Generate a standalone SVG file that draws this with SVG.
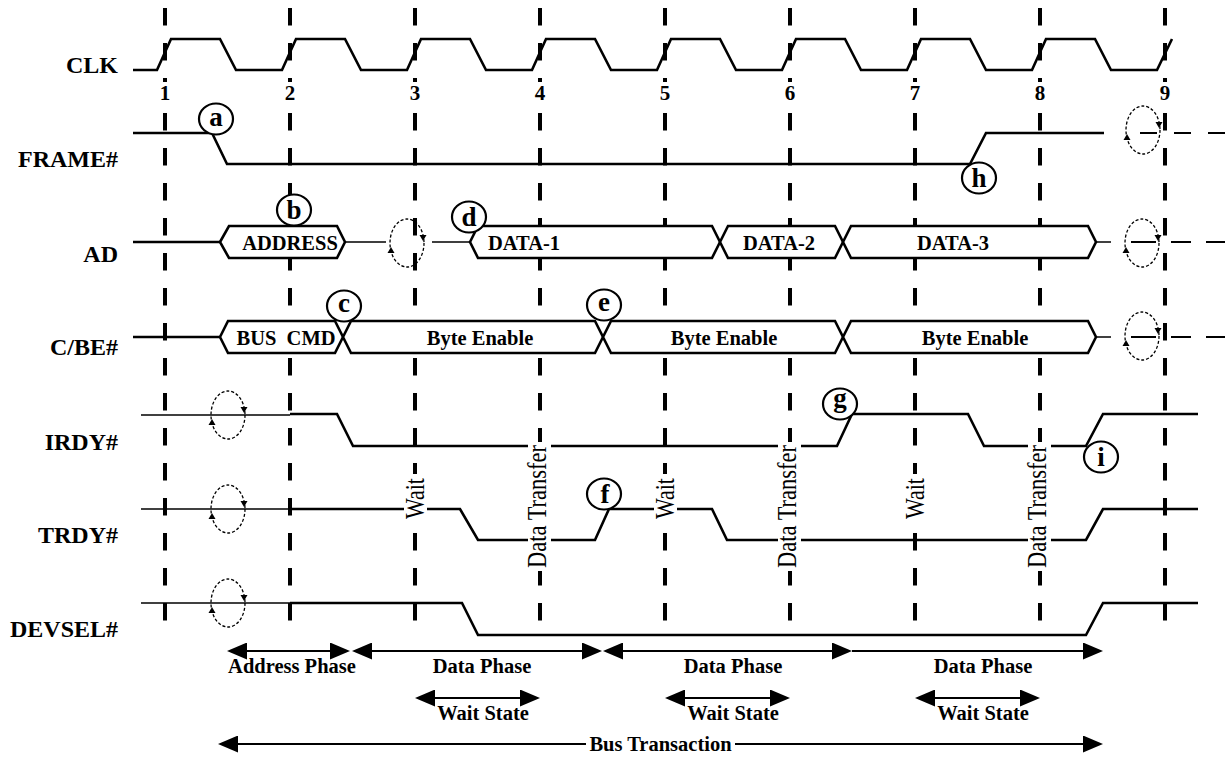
<svg xmlns="http://www.w3.org/2000/svg" xmlns:xlink="http://www.w3.org/1999/xlink" width="1225" height="758" viewBox="0 0 1225 758">
<style>
.grid{stroke:#000;stroke-width:4;stroke-dasharray:17.5 17.5;fill:none}
.sig{stroke:#000;stroke-width:2.6;fill:none;stroke-linejoin:miter}
.thin{stroke:#000;stroke-width:1.5;fill:none}
.tri{stroke:#000;stroke-width:2;fill:none}
.bus{stroke:#000;stroke-width:2.6;fill:#fff;stroke-linejoin:miter}
.loopE{fill:none;stroke:#000;stroke-width:1.3;stroke-dasharray:3 2}
.knock{fill:#fff;stroke:none}
.lbl{font-family:"Liberation Serif","Times New Roman",serif;font-weight:bold;font-size:24px;text-anchor:end;fill:#000}
.dig{font-family:"Liberation Serif","Times New Roman",serif;font-weight:bold;font-size:21px;text-anchor:middle;fill:#000}
.bt{font-family:"Liberation Serif","Times New Roman",serif;font-weight:bold;font-size:20.5px;text-anchor:middle;fill:#000}
.vt{font-family:"Liberation Serif","Times New Roman",serif;font-size:22px;text-anchor:middle;fill:#000}
.cir ellipse{fill:#fff;stroke:#000;stroke-width:2.2}
.cir text{font-family:"Liberation Serif","Times New Roman",serif;font-weight:bold;font-size:27px;text-anchor:middle;fill:#000}
.arr{stroke:#000;stroke-width:2;fill:none}
</style>
<defs>
<marker id="ah" viewBox="0 0 20 17" refX="17" refY="8.5" markerWidth="20" markerHeight="17" markerUnits="userSpaceOnUse" orient="auto-start-reverse"><path d="M0,0 L20,8.5 L0,17 z" fill="#000"/></marker>
<g id="loop">
<ellipse class="loopE" cx="0" cy="0" rx="17" ry="24"/>
<path d="M12.5,-8 L19.5,-8 L16,-2 z" fill="#000"/>
<path d="M-19.5,10 L-12.5,10 L-16,4 z" fill="#000"/>
</g>
</defs>
<rect width="1225" height="758" fill="#fff"/>

<g id="clock-grid">
<line class="grid" x1="165" y1="8" x2="165" y2="621"/>
<line class="grid" x1="290" y1="8" x2="290" y2="621"/>
<line class="grid" x1="415" y1="8" x2="415" y2="621"/>
<line class="grid" x1="540" y1="8" x2="540" y2="621"/>
<line class="grid" x1="665" y1="8" x2="665" y2="621"/>
<line class="grid" x1="790" y1="8" x2="790" y2="621"/>
<line class="grid" x1="915" y1="8" x2="915" y2="621"/>
<line class="grid" x1="1040" y1="8" x2="1040" y2="621"/>
<line class="grid" x1="1165" y1="8" x2="1165" y2="621"/>
<g>
<rect class="knock" x="156" y="82" width="18" height="20"/>
<rect class="knock" x="281" y="82" width="18" height="20"/>
<rect class="knock" x="406" y="82" width="18" height="20"/>
<rect class="knock" x="531" y="82" width="18" height="20"/>
<rect class="knock" x="656" y="82" width="18" height="20"/>
<rect class="knock" x="781" y="82" width="18" height="20"/>
<rect class="knock" x="906" y="82" width="18" height="20"/>
<rect class="knock" x="1031" y="82" width="18" height="20"/>
<rect class="knock" x="1156" y="82" width="18" height="20"/>
</g>
<text class="dig" x="165" y="100">1</text>
<text class="dig" x="290" y="100">2</text>
<text class="dig" x="415" y="100">3</text>
<text class="dig" x="540" y="100">4</text>
<text class="dig" x="665" y="100">5</text>
<text class="dig" x="790" y="100">6</text>
<text class="dig" x="915" y="100">7</text>
<text class="dig" x="1040" y="100">8</text>
<text class="dig" x="1165" y="100">9</text>
</g>

<g id="sig-clk">
<text class="lbl" x="118" y="73">CLK</text>
<path class="sig" d="M133 70 L157 70 L171 39 L220 39 L236 70 L282 70 L296 39 L345 39 L361 70 L407 70 L421 39 L470 39 L486 70 L532 70 L546 39 L595 39 L611 70 L657 70 L671 39 L720 39 L736 70 L782 70 L796 39 L845 39 L861 70 L907 70 L921 39 L970 39 L986 70 L1032 70 L1046 39 L1095 39 L1111 70 L1157 70 L1172 39"/>
</g>

<g id="sig-frame">
<text class="lbl" x="118" y="167">FRAME#</text>
<path class="sig" d="M133 133 L212 133 L227 164 L970 164 L986 133 L1104 133"/>
<use xlink:href="#loop" href="#loop" transform="translate(1143,130)"/>
<line class="tri" x1="1140" y1="133" x2="1225" y2="133" stroke-dasharray="17 17"/>
</g>

<g id="sig-ad">
<text class="lbl" x="118" y="262">AD</text>
<path class="sig" d="M133 242 L220 242"/>
<polygon class="bus" points="220,242 229,226 337,226 345,242 337,258 229,258"/>
<path class="thin" d="M345 242 L386 242 M432 242 L470 242"/>
<use xlink:href="#loop" href="#loop" transform="translate(407,243)"/>
<polygon class="bus" points="470,242 478,226 712,226 720,242 712,258 478,258"/>
<polygon class="bus" points="720,242 728,226 835,226 843,242 835,258 728,258"/>
<polygon class="bus" points="843,242 851,226 1088,226 1096,242 1088,258 851,258"/>
<path class="thin" d="M1096 242 L1111 242"/>
<use xlink:href="#loop" href="#loop" transform="translate(1142,243)"/>
<line class="tri" x1="1131" y1="242" x2="1225" y2="242" stroke-dasharray="25 15 20 15"/>
<text class="bt" x="290" y="250">ADDRESS</text>
<text class="bt" x="488" y="250" style="text-anchor:start">DATA-1</text>
<text class="bt" x="779" y="250">DATA-2</text>
<text class="bt" x="953" y="250">DATA-3</text>
</g>

<g id="sig-cbe">
<text class="lbl" x="118" y="355">C/BE#</text>
<path class="sig" d="M133 337 L220 337"/>
<polygon class="bus" points="220,337 228,321 335,321 343,337 335,353 228,353"/>
<polygon class="bus" points="343,337 351,321 595,321 603,337 595,353 351,353"/>
<polygon class="bus" points="603,337 611,321 835,321 843,337 835,353 611,353"/>
<polygon class="bus" points="843,337 851,321 1088,321 1096,337 1088,353 851,353"/>
<path class="thin" d="M1096 337 L1111 337"/>
<use xlink:href="#loop" href="#loop" transform="translate(1142,336)"/>
<line class="tri" x1="1131" y1="337" x2="1225" y2="337" stroke-dasharray="25 15 20 15"/>
<text class="bt" x="286" y="345" xml:space="preserve" style="white-space:pre">BUS  CMD</text>
<text class="bt" x="480" y="345">Byte Enable</text>
<text class="bt" x="724" y="345">Byte Enable</text>
<text class="bt" x="975" y="345">Byte Enable</text>
</g>

<g id="sig-irdy">
<text class="lbl" x="118" y="450">IRDY#</text>
<path class="thin" d="M141 415 L290 415"/>
<use xlink:href="#loop" href="#loop" transform="translate(228,415)"/>
<path class="sig" d="M290 414 L337 414 L353 446 L837 446 L852 414 L968 414 L984 446 L1086 446 L1103 414 L1198 414"/>
</g>

<g id="sig-trdy">
<text class="lbl" x="118" y="543">TRDY#</text>
<path class="thin" d="M141 509 L290 509"/>
<use xlink:href="#loop" href="#loop" transform="translate(228,509)"/>
<path class="sig" d="M290 509 L460 509 L478 540 L595 540 L609 509 L712 509 L727 540 L1086 540 L1103 509 L1198 509"/>
</g>

<g id="sig-devsel">
<text class="lbl" x="118" y="637">DEVSEL#</text>
<path class="thin" d="M141 603 L290 603"/>
<use xlink:href="#loop" href="#loop" transform="translate(228,603)"/>
<path class="sig" d="M290 603 L462 603 L478 635 L1086 635 L1103 603 L1198 603"/>
</g>

<g id="state-marks">
<rect class="knock" x="404" y="474" width="23" height="49"/>
<rect class="knock" x="654" y="474" width="23" height="49"/>
<rect class="knock" x="904" y="474" width="23" height="49"/>
<rect class="knock" x="528" y="442" width="23" height="129"/>
<rect class="knock" x="778" y="442" width="23" height="129"/>
<rect class="knock" x="1028" y="442" width="23" height="129"/>
<text class="vt" transform="translate(424,498.5) rotate(-90) scale(1,1.2)">Wait</text>
<text class="vt" transform="translate(674,498.5) rotate(-90) scale(1,1.2)">Wait</text>
<text class="vt" transform="translate(924,498.5) rotate(-90) scale(1,1.2)">Wait</text>
<text class="vt" style="font-size:22.5px" transform="translate(546,506.5) rotate(-90) scale(1,1.2)">Data Transfer</text>
<text class="vt" style="font-size:22.5px" transform="translate(796,506.5) rotate(-90) scale(1,1.2)">Data Transfer</text>
<text class="vt" style="font-size:22.5px" transform="translate(1046,506.5) rotate(-90) scale(1,1.2)">Data Transfer</text>
</g>

<g id="mark-a" class="cir"><ellipse cx="216" cy="119" rx="17" ry="15.5"/><text x="216" y="126">a</text></g>
<g id="mark-b" class="cir"><ellipse cx="294" cy="210" rx="17" ry="15.5"/><text x="294" y="219">b</text></g>
<g id="mark-c" class="cir"><ellipse cx="344" cy="306" rx="17" ry="15.5"/><text x="344" y="312">c</text></g>
<g id="mark-d" class="cir"><ellipse cx="469" cy="217" rx="17" ry="15.5"/><text x="469" y="226">d</text></g>
<g id="mark-e" class="cir"><ellipse cx="604" cy="305" rx="17" ry="15.5"/><text x="604" y="311">e</text></g>
<g id="mark-f" class="cir"><ellipse cx="604" cy="494" rx="17" ry="15.5"/><text x="605" y="503">f</text></g>
<g id="mark-g" class="cir"><ellipse cx="840" cy="404" rx="17" ry="15.5"/><text x="840" y="407">g</text></g>
<g id="mark-h" class="cir"><ellipse cx="979" cy="178" rx="17" ry="15.5"/><text x="979" y="187">h</text></g>
<g id="mark-i" class="cir"><ellipse cx="1101" cy="457" rx="17" ry="15.5"/><text x="1101" y="466">i</text></g>

<g id="connectors">
<line class="arr" x1="230" y1="651" x2="347" y2="651" marker-start="url(#ah)" marker-end="url(#ah)"/>
<line class="arr" x1="355" y1="651" x2="599" y2="651" marker-start="url(#ah)" marker-end="url(#ah)"/>
<line class="arr" x1="606" y1="651" x2="849" y2="651" marker-start="url(#ah)" marker-end="url(#ah)"/>
<line class="arr" x1="852" y1="651" x2="1100" y2="651" marker-end="url(#ah)"/>
<line class="arr" x1="418" y1="698" x2="537" y2="698" marker-start="url(#ah)" marker-end="url(#ah)"/>
<line class="arr" x1="668" y1="698" x2="787" y2="698" marker-start="url(#ah)" marker-end="url(#ah)"/>
<line class="arr" x1="918" y1="698" x2="1037" y2="698" marker-start="url(#ah)" marker-end="url(#ah)"/>
<line class="arr" x1="221" y1="744" x2="586" y2="744" marker-start="url(#ah)"/>
<line class="arr" x1="735" y1="744" x2="1100" y2="744" marker-end="url(#ah)"/>
</g>

<g id="phase-labels">
<text class="bt" x="292" y="673">Address Phase</text>
<text class="bt" x="482" y="673">Data Phase</text>
<text class="bt" x="733" y="673">Data Phase</text>
<text class="bt" x="983" y="673">Data Phase</text>
<text class="bt" x="483" y="720">Wait State</text>
<text class="bt" x="733" y="720">Wait State</text>
<text class="bt" x="983" y="720">Wait State</text>
<text class="bt" x="660.5" y="751">Bus Transaction</text>
</g>
</svg>
